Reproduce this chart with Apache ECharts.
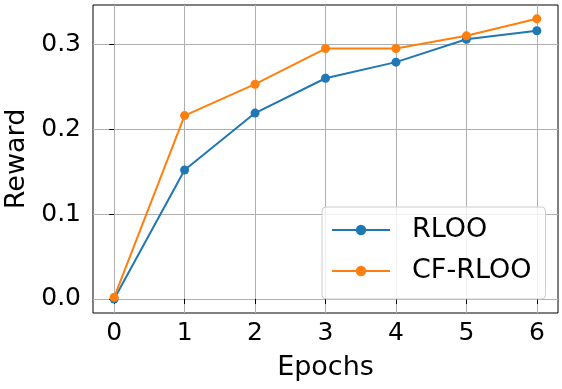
<!DOCTYPE html>
<html>
<head>
<meta charset="utf-8">
<script src="https://cdn.jsdelivr.net/npm/echarts@6/dist/echarts.min.js"></script>
<style>
  html, body { margin: 0; padding: 0; background: #fff; }
  #chart { width: 562px; height: 389px; }
</style>
</head>
<body>
<div id="chart"></div>
<script>
const epochs = [0, 1, 2, 3, 4, 5, 6];
const rloo = [0.000, 0.152, 0.219, 0.260, 0.279, 0.306, 0.316];
const cfRloo = [0.002, 0.216, 0.253, 0.295, 0.295, 0.310, 0.330];
const yTicks = [0, 0.1, 0.2, 0.3];

const font = "DejaVu Sans";
const chart = echarts.init(document.getElementById("chart"));

function pairs(vals) {
  return epochs.map((e, i) => [e, vals[i]]);
}

const option = {
  animation: false,
  textStyle: { fontFamily: font },
  grid: {
    left: 93, right: 4, top: 5, bottom: 76,
    outerBoundsMode: "none",
    containLabel: false,
    show: true, borderColor: "#000", borderWidth: 1, backgroundColor: "transparent"
  },
  xAxis: {
    type: "value",
    min: -0.3,
    max: 6.3,
    name: "Epochs",
    nameLocation: "middle",
    nameGap: 41,
    nameTextStyle: { fontFamily: font, fontSize: 27, color: "#000" },
    axisLine: { show: false },
    axisTick: { show: true, length: 5, customValues: epochs, lineStyle: { color: "#000" } },
    axisLabel: { customValues: epochs, margin: 8, fontFamily: font, fontSize: 25, color: "#000" },
    splitLine: { show: true, lineStyle: { color: "#b0b0b0", width: 1 } }
  },
  yAxis: {
    type: "value",
    min: -0.0165,
    max: 0.3463,
    name: "Reward",
    nameLocation: "middle",
    nameGap: 55,
    nameTextStyle: { fontFamily: font, fontSize: 27, color: "#000" },
    axisLine: { show: false },
    axisTick: { show: true, length: 5, customValues: yTicks, lineStyle: { color: "#000" } },
    axisLabel: {
      customValues: yTicks, margin: 12, fontFamily: font, fontSize: 25, color: "#000",
      formatter: v => v.toFixed(1)
    },
    splitLine: { show: true, lineStyle: { color: "#b0b0b0", width: 1 } }
  },
  legend: {
    orient: "vertical",
    left: 322,
    top: 207,
    padding: [8, 14, 13, 9],
    itemGap: 11,
    itemWidth: 58,
    itemHeight: 13,
    backgroundColor: "rgba(255,255,255,0.8)",
    borderColor: "#cccccc",
    borderWidth: 1,
    borderRadius: 4,
    textStyle: { fontFamily: font, fontSize: 27, color: "#000", lineHeight: 30, padding: [0, 0, 0, 17] },
    data: ["RLOO", "CF-RLOO"]
  },
  series: [
    {
      name: "RLOO",
      type: "line",
      data: pairs(rloo),
      symbol: "circle",
      symbolSize: 9,
      color: "#1f77b4",
      lineStyle: { width: 2 }
    },
    {
      name: "CF-RLOO",
      type: "line",
      data: pairs(cfRloo),
      symbol: "circle",
      symbolSize: 9,
      color: "#ff7f0e",
      lineStyle: { width: 2 }
    }
  ]
};

chart.setOption(option);
</script>
</body>
</html>
